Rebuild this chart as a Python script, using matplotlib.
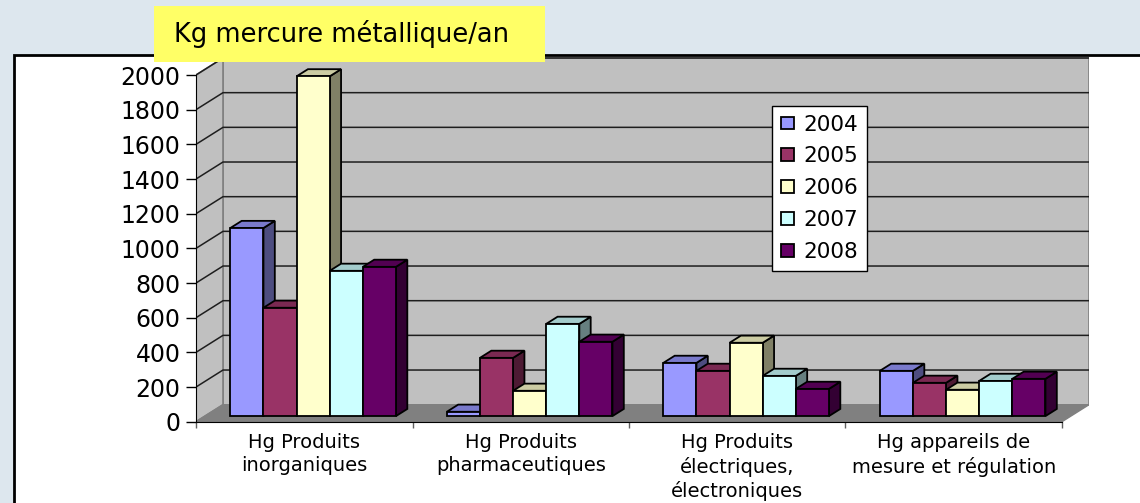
import matplotlib
matplotlib.use('Agg')
import matplotlib.pyplot as plt
from matplotlib.patches import Rectangle, Polygon

plt.rcParams['font.family'] = ['DejaVu Sans']

# ---------------- data ----------------
categories = ['Hg Produits\ninorganiques',
              'Hg Produits\npharmaceutiques',
              'Hg Produits\nélectriques,\nélectroniques',
              'Hg appareils de\nmesure et régulation']
years = ['2004', '2005', '2006', '2007', '2008']
v2004 = [1085, 25, 307, 261]
v2005 = [625, 336, 261, 192]
v2006 = [1960, 146, 423, 152]
v2007 = [838, 532, 232, 203]
v2008 = [861, 429, 157, 215]
y_ticks = [0, 200, 400, 600, 800, 1000, 1200, 1400, 1600, 1800, 2000]
title = 'Kg mercure métallique/an'

series = [v2004, v2005, v2006, v2007, v2008]
front_colors = ['#9999ff', '#993366', '#ffffcc', '#ccffff', '#660066']


def shade(hexcol, k):
    r, g, b = (int(hexcol[i:i + 2], 16) for i in (1, 3, 5))
    return (r * k / 255, g * k / 255, b * k / 255)


# ---------------- figure ----------------
W, H = 1140, 503
fig = plt.figure(figsize=(W / 100, H / 100), dpi=100)
fig.patch.set_facecolor('#dde7ee')

# white chart frame
fig.add_artist(Rectangle((14 / W, -0.05), 1.2, (H - 55) / H + 0.05,
                         transform=fig.transFigure, fc='white', ec='black',
                         lw=2, zorder=-2))

# axes placed so that front floor edge runs from x=196 to x=1062 px
x0_px, x1_px = 196, 1089
y0_px, y1_px = 421.7, 55
px_per_cat = 216.5
px_per_val = 34.67 / 200
ax = fig.add_axes([x0_px / W, (H - y0_px) / H, (x1_px - x0_px) / W, (y0_px - y1_px) / H])
ax.set_xlim(0, (x1_px - x0_px) / px_per_cat)
ax.set_ylim(0, (y0_px - y1_px) / px_per_val)
ax.patch.set_alpha(0)

ncat = len(categories)
DX = 27 / px_per_cat          # depth offset (category units)
DY = 17 / px_per_val          # depth offset (value units)
ymax = y_ticks[-1]
wall_col = '#c0c0c0'

# back wall, side wall, floor
ax.add_patch(Rectangle((DX, DY), ncat, ymax, fc=wall_col, ec='#808080', lw=1.2, zorder=1))
ax.add_patch(Polygon([(0, 0), (DX, DY), (DX, ymax + DY), (0, ymax)], closed=True,
                     fc=wall_col, ec='#808080', lw=1.2, zorder=1))
ax.add_patch(Polygon([(0, 0), (ncat, 0), (ncat + DX, DY), (DX, DY)], closed=True,
                     fc='#808080', ec='#808080', lw=1, zorder=1.5))
# gridlines on walls
for v in y_ticks[1:]:
    ax.plot([0, DX, ncat + DX], [v, v + DY, v + DY], color='#1e1e1e', lw=1.1, zorder=1.2)

# bars with pseudo-3D faces
f0, f1 = 0.33, 0.75
ddx, ddy = (f1 - f0) * DX, (f1 - f0) * DY
w = 0.153
margin = (1 - len(series) * w) / 2
base = f0 * DY
handles = []
for j, vals in enumerate(series):
    col = front_colors[j]
    xs = [i + margin + j * w + f0 * DX for i in range(ncat)]
    z = 3 + j
    for x, v in zip(xs, vals):
        top = base + v
        ax.add_patch(Polygon([(x + w, base), (x + w + ddx, base + ddy),
                              (x + w + ddx, top + ddy), (x + w, top)], closed=True,
                             fc=shade(col, 0.5), ec='black', lw=1.3, zorder=z))
        ax.add_patch(Polygon([(x, top), (x + w, top), (x + w + ddx, top + ddy),
                              (x + ddx, top + ddy)], closed=True,
                             fc=shade(col, 0.8), ec='black', lw=1.3, zorder=z))
    bc = ax.bar(xs, vals, width=w, bottom=base, align='edge', color=col,
                edgecolor='black', lw=1.3, zorder=z + 0.5, label=years[j])
    handles.append(bc)

# axes styling
for s in ['top', 'right']:
    ax.spines[s].set_visible(False)
ax.spines['left'].set_bounds(0, ymax)
ax.spines['bottom'].set_bounds(0, ncat)
ax.spines['bottom'].set_zorder(2)
ax.spines['left'].set_zorder(2)
ax.set_yticks(y_ticks)
ax.set_yticklabels([str(t) for t in y_ticks])
ax.tick_params(axis='y', direction='out', length=7.5, width=1, pad=3.5, labelsize=17)
ax.set_xticks(range(ncat + 1))
ax.set_xticklabels([''] * (ncat + 1))
ax.tick_params(axis='x', which='major', direction='out', length=4.5, width=1, color='#606060')
ax.set_xticks([i + 0.5 for i in range(ncat)], minor=True)
ax.set_xticklabels(categories, minor=True, fontsize=14, linespacing=1.3)
ax.tick_params(axis='x', which='minor', length=0, pad=8)

leg = ax.legend(handles=handles, loc='upper left',
                bbox_to_anchor=(772 / W, 1 - 106 / H), bbox_transform=fig.transFigure,
                borderaxespad=0, fontsize=15.5, handlelength=0.6, handleheight=0.55,
                handletextpad=0.45, labelspacing=0.55, borderpad=0.4,
                fancybox=False, framealpha=1, edgecolor='black')
leg.get_frame().set_linewidth(1)
leg.set_zorder(20)

# title box
fig.add_artist(Rectangle((154 / W, (H - 62) / H), (545 - 154) / W, 56 / H,
                         transform=fig.transFigure, fc='#ffff66', ec='none', zorder=5))
fig.text(174 / W, (H - 34) / H, title, ha='left', va='center', fontsize=18.5, zorder=6)

fig.savefig('out.png', dpi=100, facecolor=fig.get_facecolor())
